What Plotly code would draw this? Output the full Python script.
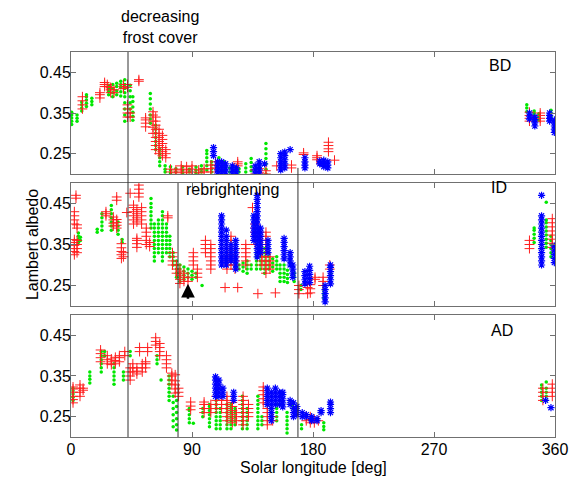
import plotly.graph_objects as go

# ---------------- data: (solar longitude, [albedo values]) columns ----------------
BD_GREEN = [
    (0.5, [0.322, 0.33, 0.338, 0.345, 0.352]), (4.5, [0.33, 0.337, 0.345]),
    (8, [0.355, 0.362, 0.37, 0.377]), (11.5, [0.366, 0.374, 0.382, 0.39, 0.395]),
    (15.5, [0.37, 0.378, 0.386]), (28, [0.395, 0.403, 0.41, 0.418]),
    (31, [0.39, 0.4, 0.41, 0.42]), (34, [0.395, 0.405, 0.415, 0.423]),
    (37, [0.392, 0.402, 0.412, 0.42, 0.428]),
    (40, [0.33, 0.345, 0.36, 0.375, 0.39, 0.4, 0.41, 0.42, 0.432]),
    (44, [0.36, 0.375, 0.39, 0.405, 0.418]), (46, [0.332, 0.342, 0.352, 0.365, 0.378, 0.39]),
    (59, [0.325, 0.335, 0.345, 0.36, 0.372, 0.385, 0.398]),
    (63, [0.26, 0.27, 0.28, 0.29, 0.3, 0.31, 0.32]), (66, [0.22, 0.23, 0.24, 0.25, 0.26]),
    (70, [0.205, 0.212, 0.22]), (74, [0.203, 0.21, 0.218]), (78, [0.205, 0.213]),
    (83, [0.203, 0.21, 0.218]), (88, [0.205, 0.212]), (93, [0.203, 0.21, 0.217]),
    (97, [0.205, 0.212, 0.22]), (101, [0.21, 0.22, 0.23, 0.24, 0.25, 0.258]),
    (104.5, [0.205, 0.213, 0.222, 0.23]), (110, [0.205, 0.213, 0.222, 0.23, 0.24]),
    (114, [0.21, 0.22, 0.23]), (118, [0.205, 0.215]), (125, [0.205, 0.213]),
    (130, [0.205, 0.215, 0.225]), (134, [0.208, 0.218, 0.228, 0.238]),
    (140, [0.205, 0.215, 0.225]), (145, [0.2, 0.212, 0.225, 0.238, 0.25, 0.262, 0.275]),
    (339, [0.353, 0.362, 0.37]), (344.5, [0.33, 0.337, 0.344, 0.35, 0.355]),
    (348, [0.332, 0.34, 0.348]), (357, [0.335, 0.342, 0.35, 0.357]),
]
BD_RED = [
    (8.5, [0.36, 0.37, 0.38, 0.39]), (21.5, [0.387, 0.395, 0.4]), (25, [0.415, 0.42, 0.425]),
    (27, [0.415, 0.42]), (29.5, [0.4, 0.407, 0.413]), (32, [0.4, 0.407]),
    (39, [0.41, 0.415, 0.42]), (42, [0.413, 0.42, 0.34, 0.35, 0.36, 0.37]), (44, [0.34, 0.35]),
    (50.5, [0.428, 0.432]), (55.5, [0.316, 0.325, 0.333, 0.338]),
    (61, [0.3, 0.315, 0.33, 0.345, 0.353]),
    (63, [0.26, 0.27, 0.28, 0.29, 0.3, 0.31, 0.32, 0.33, 0.34]),
    (65.5, [0.25, 0.26, 0.27, 0.28, 0.29, 0.3, 0.31]),
    (68, [0.245, 0.255, 0.265, 0.275, 0.285, 0.295]), (70.5, [0.24, 0.25, 0.26]),
    (74, [0.205, 0.212]), (78, [0.203, 0.21]), (82, [0.205, 0.212, 0.22]),
    (86, [0.203, 0.21, 0.218]), (90, [0.205, 0.212, 0.22]), (95, [0.203, 0.21]),
    (99, [0.205, 0.213]), (104, [0.205, 0.213, 0.222]), (107.5, [0.215, 0.222, 0.23]),
    (124, [0.22, 0.225, 0.23]), (137, [0.2, 0.21]), (140, [0.203, 0.213]), (145, [0.2, 0.208]),
    (153, [0.22]), (164, [0.215, 0.222]), (173, [0.248, 0.252]), (183, [0.235, 0.24, 0.245]),
    (191.5, [0.255, 0.262, 0.27, 0.278]), (196, [0.234]),
    (341, [0.33, 0.337, 0.344, 0.352]), (349, [0.33, 0.337, 0.344, 0.35]),
]
BD_BLUE = [
    (106, [0.245, 0.255, 0.265]), (109, [0.2, 0.21, 0.22, 0.23]), (112, [0.2, 0.21, 0.22, 0.23]),
    (115, [0.205, 0.215, 0.225]), (120, [0.2, 0.21, 0.22]), (123, [0.205, 0.215]),
    (137, [0.2, 0.21, 0.22]), (140, [0.2, 0.21, 0.22, 0.23]), (144, [0.225]),
    (156, [0.21, 0.22, 0.23, 0.24, 0.25]), (159, [0.215, 0.225, 0.235, 0.245, 0.254]),
    (163, [0.26]), (174, [0.215, 0.222, 0.23, 0.24]), (185, [0.225, 0.232]),
    (188, [0.218, 0.226, 0.234]), (191, [0.215, 0.222, 0.23]),
    (341, [0.335, 0.342, 0.35]), (345, [0.318, 0.326, 0.334, 0.34]),
    (356, [0.33, 0.337, 0.344, 0.35]), (359.5, [0.302, 0.31, 0.318, 0.326, 0.333]),
]

ID_GREEN = [
    (5.5, [0.355, 0.362, 0.37, 0.378]), (7, [0.36, 0.368]), (19.5, [0.38, 0.387]),
    (23, [0.385, 0.395, 0.405, 0.415, 0.425]),
    (30, [0.385, 0.395, 0.405, 0.415, 0.425, 0.435, 0.445]),
    (35, [0.375, 0.385, 0.395, 0.405]), (38, [0.355, 0.362]),
    (59.5, [0.39, 0.4, 0.41, 0.42, 0.43, 0.44, 0.45, 0.462]),
    (62, [0.31, 0.32, 0.33, 0.34, 0.35, 0.36, 0.37, 0.38, 0.39, 0.4]),
    (65, [0.33, 0.34, 0.35, 0.36, 0.37, 0.38, 0.39, 0.4, 0.41]),
    (68, [0.31, 0.32, 0.33, 0.34, 0.35, 0.36, 0.37, 0.38, 0.39, 0.4, 0.41, 0.42, 0.43]),
    (71, [0.33, 0.34, 0.35, 0.36, 0.37, 0.38, 0.39, 0.4]),
    (73.5, [0.32, 0.33, 0.34, 0.35, 0.36, 0.37]), (76, [0.3, 0.31, 0.32, 0.33]),
    (78.5, [0.27, 0.28, 0.29, 0.3, 0.31]), (81, [0.26, 0.27, 0.28, 0.29, 0.3]),
    (84, [0.265, 0.275, 0.285, 0.295]), (87, [0.27, 0.28, 0.29]), (90, [0.265, 0.275, 0.285]),
    (93, [0.27, 0.28]), (97.5, [0.25]), (125, [0.29, 0.3]), (128, [0.285, 0.295, 0.305]),
    (131, [0.28, 0.29, 0.3, 0.31]), (134, [0.29, 0.3]), (138, [0.29, 0.3, 0.31, 0.32, 0.33]),
    (141, [0.29, 0.3, 0.31, 0.32, 0.33, 0.34, 0.35, 0.36, 0.37]),
    (144, [0.28, 0.29, 0.3, 0.31, 0.32, 0.33, 0.34]), (147, [0.29, 0.3, 0.31, 0.32, 0.33]),
    (150, [0.285, 0.295, 0.305, 0.315]), (153, [0.29, 0.3, 0.31, 0.32]),
    (155.5, [0.26, 0.27, 0.28, 0.29, 0.3]), (158.5, [0.26, 0.27, 0.28, 0.29, 0.3]),
    (161, [0.257, 0.267, 0.277, 0.287]), (166, [0.26, 0.27, 0.28]), (171, [0.24, 0.25]),
    (188, [0.22, 0.23, 0.24, 0.25]), (193, [0.26, 0.27, 0.28, 0.29]),
    (344.5, [0.355, 0.365, 0.375, 0.385, 0.39]),
    (353.5, [0.343, 0.353, 0.363, 0.373, 0.383, 0.393, 0.403, 0.41, 0.453]),
    (357, [0.32, 0.33, 0.34, 0.35, 0.36, 0.37]),
]
ID_RED = [
    (3.7, [0.47, 0.463]),
    (2.5, [0.325, 0.333, 0.34, 0.348, 0.355, 0.362, 0.4, 0.41, 0.42, 0.43]),
    (4.5, [0.33, 0.34, 0.35, 0.36, 0.39, 0.398]), (26, [0.42, 0.425, 0.43]),
    (31.5, [0.395, 0.402, 0.41, 0.417]), (34, [0.39, 0.397, 0.404, 0.411, 0.458, 0.466]),
    (37.5, [0.316, 0.325, 0.333, 0.342, 0.352]), (39, [0.32, 0.33]), (41.5, [0.428]),
    (44, [0.475]), (46.5, [0.4, 0.41, 0.42, 0.43, 0.44, 0.446]),
    (49, [0.343, 0.352, 0.36, 0.365, 0.405, 0.415, 0.425, 0.435]),
    (50.5, [0.466, 0.475, 0.485, 0.495]), (52.5, [0.4, 0.41, 0.42, 0.43, 0.44]),
    (56, [0.35, 0.36, 0.37, 0.38, 0.39]), (58.5, [0.345, 0.355]), (72, [0.415, 0.42]),
    (75.5, [0.3, 0.31, 0.32, 0.33]), (78.5, [0.28, 0.29, 0.3]),
    (81, [0.255, 0.265, 0.275, 0.285]), (84, [0.26, 0.27, 0.28]), (87, [0.26, 0.27]),
    (91, [0.3, 0.31, 0.32, 0.33]), (94, [0.27, 0.28, 0.29]), (100, [0.33, 0.34, 0.35, 0.36]),
    (104, [0.29, 0.3, 0.31, 0.32, 0.33, 0.34, 0.35]), (114.6, [0.245]),
    (116, [0.29, 0.3, 0.31, 0.32, 0.33, 0.34]),
    (119, [0.3, 0.31, 0.32, 0.33, 0.34, 0.35, 0.36, 0.37]),
    (122, [0.29, 0.3, 0.31, 0.32, 0.33, 0.34]), (124, [0.245]),
    (130, [0.3, 0.31, 0.32, 0.33, 0.34, 0.35]), (135, [0.44]),
    (137, [0.35, 0.36, 0.37, 0.38, 0.39, 0.4]), (139, [0.23]),
    (142, [0.3, 0.31, 0.32, 0.33, 0.34, 0.35, 0.36]),
    (145, [0.28, 0.29, 0.3, 0.31, 0.32, 0.33, 0.34, 0.35, 0.36, 0.37, 0.38]),
    (148, [0.29, 0.3, 0.31, 0.32]), (152, [0.232]), (169.5, [0.23, 0.24, 0.25]),
    (176, [0.23, 0.245]), (178, [0.232, 0.242, 0.252]), (181.5, [0.265, 0.27]),
    (187.5, [0.25, 0.26, 0.27]), (192.5, [0.29, 0.3]), (341, [0.34, 0.35, 0.36]),
    (358, [0.343, 0.353, 0.363, 0.373, 0.383, 0.393, 0.403, 0.413]),
]
ID_BLUE = [
    (112, [0.3, 0.31, 0.32, 0.33, 0.34, 0.35, 0.36, 0.37, 0.38, 0.39, 0.4, 0.41, 0.42]),
    (115.5, [0.3, 0.31, 0.32, 0.33, 0.34, 0.35, 0.36, 0.37, 0.385]),
    (119, [0.31, 0.32, 0.33, 0.34, 0.35]),
    (122.5, [0.29, 0.3, 0.31, 0.32, 0.33, 0.34, 0.35, 0.36]),
    (136, [0.36, 0.37, 0.38, 0.39, 0.4, 0.41, 0.42]),
    (138.5, [0.32, 0.33, 0.34, 0.35, 0.36, 0.37, 0.38, 0.39, 0.4, 0.41, 0.42, 0.43, 0.44,
             0.45, 0.46, 0.47]),
    (141, [0.33, 0.34, 0.35, 0.36, 0.37, 0.38, 0.39]), (146.5, [0.33, 0.34, 0.35, 0.36]),
    (158.5, [0.315, 0.325, 0.335, 0.345, 0.355, 0.365]), (163, [0.3, 0.31, 0.32, 0.33]),
    (165, [0.27, 0.28, 0.29, 0.3]), (174, [0.254, 0.264, 0.274, 0.284]),
    (177.5, [0.257, 0.267, 0.277, 0.287, 0.297]), (189, [0.21, 0.22, 0.23, 0.24, 0.25]),
    (193, [0.254, 0.264, 0.274, 0.284, 0.294, 0.3]),
    (350, [0.3, 0.31, 0.32, 0.33, 0.34, 0.35, 0.36, 0.37, 0.38, 0.39, 0.4, 0.41, 0.42, 0.47]),
    (359.5, [0.306, 0.316, 0.326, 0.336, 0.346]),
]

AD_GREEN = [
    (1.5, [0.29, 0.298, 0.306, 0.314, 0.32]), (14, [0.333, 0.342, 0.35, 0.36]),
    (22.5, [0.36, 0.37, 0.38, 0.39, 0.4, 0.41]), (25, [0.4, 0.41]),
    (32, [0.33, 0.34, 0.35, 0.36, 0.37, 0.38]), (39, [0.34, 0.35, 0.36]), (44, [0.4, 0.41]),
    (64, [0.38, 0.39, 0.4]), (67, [0.34]), (73, [0.29, 0.3, 0.31, 0.32, 0.33, 0.34, 0.35]),
    (76, [0.225, 0.24, 0.255, 0.27, 0.285, 0.3]), (78.5, [0.217, 0.23, 0.245, 0.26, 0.275, 0.29]),
    (88, [0.235, 0.245, 0.255, 0.265, 0.27]), (91, [0.234]), (98, [0.25, 0.26, 0.27]),
    (103, [0.225, 0.235, 0.245, 0.255, 0.265, 0.275, 0.28]),
    (108, [0.22, 0.23, 0.24, 0.25, 0.26, 0.27, 0.28, 0.29]),
    (111, [0.22, 0.23, 0.24, 0.25, 0.26, 0.27]),
    (116, [0.22, 0.23, 0.24, 0.25, 0.26, 0.27, 0.28]),
    (119, [0.22, 0.23, 0.24, 0.25, 0.26, 0.27, 0.28]), (122, [0.23, 0.24, 0.25, 0.26, 0.27]),
    (127.5, [0.22, 0.23, 0.24, 0.25, 0.26, 0.27, 0.28, 0.29, 0.3]),
    (131, [0.22, 0.23, 0.24, 0.25, 0.26, 0.27]),
    (139, [0.22, 0.23, 0.24, 0.25, 0.26, 0.27, 0.28, 0.29, 0.3]), (142, [0.23, 0.24, 0.25]),
    (153, [0.24, 0.25, 0.26, 0.27, 0.28]), (160.7, [0.21, 0.22, 0.23, 0.24, 0.25, 0.26]),
    (165, [0.27, 0.28]), (171.5, [0.22, 0.23]), (188, [0.218, 0.226, 0.235]),
    (350, [0.29, 0.3, 0.31, 0.32, 0.328]), (353.5, [0.29, 0.3, 0.31, 0.32, 0.335]),
]
AD_RED = [
    (1.5, [0.284, 0.292, 0.3, 0.31, 0.318, 0.323]), (6.7, [0.3, 0.31, 0.32, 0.328]),
    (9, [0.315, 0.32]), (22, [0.385, 0.395, 0.405, 0.414]), (27, [0.38, 0.39, 0.4]),
    (30, [0.378, 0.385, 0.392]), (33, [0.38, 0.388, 0.396]), (36, [0.385, 0.395, 0.4]),
    (40, [0.4, 0.41]), (44, [0.34, 0.35, 0.36, 0.37]), (46, [0.36, 0.37, 0.38]),
    (49, [0.355, 0.362, 0.37]), (51, [0.41, 0.42]), (53, [0.36, 0.37, 0.38]),
    (55.5, [0.37, 0.38, 0.385]), (57, [0.41, 0.42]), (63, [0.426, 0.435, 0.444]),
    (66, [0.4, 0.41, 0.42, 0.43]), (71, [0.37, 0.38, 0.39, 0.4]),
    (75, [0.33, 0.34, 0.35, 0.357]), (77.5, [0.308, 0.318, 0.328, 0.338, 0.353]),
    (80, [0.3, 0.31, 0.32]), (89, [0.267, 0.276, 0.286]), (99, [0.26, 0.27, 0.28, 0.286]),
    (104, [0.26, 0.27, 0.28]), (108, [0.27, 0.28, 0.29, 0.3]), (112, [0.27, 0.28, 0.29]),
    (116, [0.24, 0.25, 0.26, 0.27, 0.28, 0.29, 0.3]),
    (120, [0.235, 0.245, 0.255, 0.265, 0.275, 0.285]), (123, [0.24, 0.25, 0.26]),
    (128, [0.23, 0.24, 0.25, 0.26, 0.27, 0.28, 0.29, 0.3]), (132, [0.25, 0.26, 0.27, 0.28]),
    (143, [0.284, 0.294, 0.304, 0.314, 0.323]), (146, [0.23, 0.24, 0.25, 0.26, 0.27, 0.28]),
    (150, [0.24, 0.25]), (175, [0.24, 0.25]), (178, [0.235, 0.243, 0.25]),
    (181, [0.235, 0.243]), (184, [0.24]), (351, [0.29, 0.3, 0.31, 0.32]),
    (358, [0.3, 0.31, 0.32, 0.33]),
]
AD_BLUE = [
    (107.5, [0.3, 0.31, 0.32, 0.33, 0.34, 0.348]), (110, [0.3, 0.31, 0.32, 0.33, 0.34]),
    (113, [0.3, 0.31, 0.32]), (121, [0.29, 0.3, 0.31]), (146, [0.28, 0.29, 0.3, 0.31, 0.32]),
    (149, [0.24, 0.25, 0.26, 0.27, 0.28, 0.29, 0.3, 0.31]),
    (152, [0.28, 0.29, 0.3, 0.31, 0.32]), (155, [0.28, 0.29, 0.3, 0.31]),
    (157.5, [0.274, 0.284, 0.294, 0.304, 0.31]), (163, [0.28, 0.29]),
    (165.5, [0.25, 0.26, 0.27, 0.284]), (168, [0.255, 0.265, 0.275]), (172, [0.25, 0.26]),
    (175, [0.25, 0.255]), (179, [0.24, 0.245, 0.25]), (183, [0.24, 0.245]),
    (186, [0.26, 0.265]), (193, [0.26, 0.27, 0.28, 0.286]), (353, [0.29]), (357, [0.272]),
]

X_TICKS = [0, 90, 180, 270, 360]
Y_TICKS = [0.25, 0.35, 0.45]
PANEL_LABELS = ["BD", "ID", "AD"]
EVENT_LINES_LS = [42.4, 79.6, 168.8]

# ---------------- figure ----------------
FONT = "Liberation Sans, Arial, sans-serif"
FRAME = "#707070"


def flat(cols):
    xs, ys = [], []
    for ls, vals in cols:
        for v in vals:
            xs.append(ls)
            ys.append(v)
    return xs, ys


fig = go.Figure()
panels = [(BD_GREEN, BD_RED, BD_BLUE), (ID_GREEN, ID_RED, ID_BLUE), (AD_GREEN, AD_RED, AD_BLUE)]
for i, (g, r, b) in enumerate(panels):
    xa = "x" if i == 0 else f"x{i+1}"
    ya = "y" if i == 0 else f"y{i+1}"
    gx, gy = flat(g)
    fig.add_trace(go.Scatter(x=gx, y=gy, mode="markers", xaxis=xa, yaxis=ya,
                             marker=dict(symbol="circle", size=3.5, color="#00e800"),
                             showlegend=False, hoverinfo="skip"))
    rx, ry = flat(r)
    fig.add_trace(go.Scatter(x=rx, y=ry, mode="markers", xaxis=xa, yaxis=ya,
                             marker=dict(symbol="cross-thin", size=7, color="#ff0000",
                                         line=dict(color="#ff2020", width=1)),
                             showlegend=False, hoverinfo="skip"))
    bx, by = flat(b)
    fig.add_trace(go.Scatter(x=bx, y=by, mode="markers", xaxis=xa, yaxis=ya,
                             marker=dict(symbol="asterisk", size=6, color="#0000ff",
                                         line=dict(color="#0000ff", width=1.2)),
                             showlegend=False, hoverinfo="skip"))

domains = [[0.6831, 1.0], [0.3403, 0.6597], [0.0, 0.3169]]
axis_common = dict(showline=True, linecolor=FRAME, linewidth=1, mirror="ticks",
                   ticks="inside", ticklen=5, tickcolor=FRAME, showgrid=False, zeroline=False,
                   automargin=False,
                   tickfont=dict(family=FONT, size=16, color="black"))
layout = dict(width=573, height=477, margin=dict(l=71, r=18, t=52, b=40, autoexpand=False),
              paper_bgcolor="white", plot_bgcolor="white",
              font=dict(family=FONT, size=16, color="black"))
for i in range(3):
    xk = "xaxis" if i == 0 else f"xaxis{i+1}"
    yk = "yaxis" if i == 0 else f"yaxis{i+1}"
    ya = "y" if i == 0 else f"y{i+1}"
    xa = "x" if i == 0 else f"x{i+1}"
    layout[xk] = dict(axis_common, range=[0, 360], tickvals=X_TICKS,
                      ticktext=[str(t) for t in X_TICKS], showticklabels=(i == 2),
                      anchor=ya, domain=[0, 1], ticklabelstandoff=-2)
    layout[yk] = dict(axis_common, range=[0.2, 0.5], tickvals=Y_TICKS,
                      ticktext=[f"{t:.2f}" for t in Y_TICKS], anchor=xa, domain=domains[i],
                      ticklabelstandoff=-4)
fig.update_layout(**layout)

# vertical event lines (paper y spans)
line_spans = [(0.0, 1.0), (0.0, 0.6597), (0.0, 0.699)]
for ls, (y0, y1) in zip(EVENT_LINES_LS, line_spans):
    fig.add_shape(type="line", xref="x3", yref="paper", x0=ls, x1=ls, y0=y0, y1=y1,
                  line=dict(color="#333333", width=1))

# panel labels
label_pos = [(319, 0.466), (318, 0.488), (320.7, 0.463)]
for i, (lab, (lx, ly)) in enumerate(zip(PANEL_LABELS, label_pos)):
    xa = "x" if i == 0 else f"x{i+1}"
    ya = "y" if i == 0 else f"y{i+1}"
    fig.add_annotation(x=lx, y=ly, xref=xa, yref=ya, text=lab, showarrow=False,
                       font=dict(family=FONT, size=16, color="black"))

fig.add_annotation(x=66, y=1.065, xref="x", yref="paper", text="decreasing<br>frost cover",
                   showarrow=False, font=dict(family=FONT, size=16, color="black"),
                   yanchor="middle")
fig.add_annotation(x=120, y=0.484, xref="x2", yref="y2", text="rebrightening",
                   showarrow=False, font=dict(family=FONT, size=16, color="black"))
fig.add_annotation(x=87, y=0.254, xref="x2", yref="y2", ax=87, ay=0.214, axref="x2",
                   ayref="y2", text="", showarrow=True, arrowhead=2, arrowsize=1.1,
                   arrowwidth=2.5, arrowcolor="black")

fig.add_annotation(x=-0.101, y=0.5, xref="paper", yref="paper", text="Lambert albedo",
                   textangle=-90, showarrow=False, font=dict(family=FONT, size=16, color="black"))
fig.add_annotation(x=180, y=-0.078, xref="x3", yref="paper", text="Solar longitude [deg]",
                   showarrow=False, font=dict(family=FONT, size=16, color="black"),
                   yanchor="middle")

# remove the default 8px page margin so the figure fills the window exactly
fig.write_html("out.html",
               config={"displayModeBar": False, "staticPlot": True},
               post_script="document.body.style.margin='0';document.body.style.overflow='hidden';")
